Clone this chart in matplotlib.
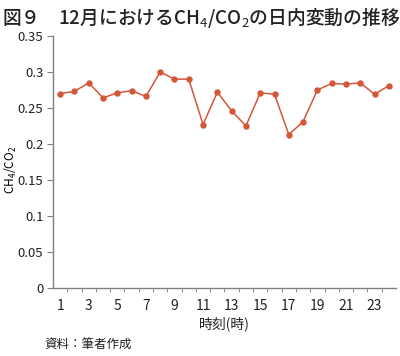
import matplotlib.pyplot as plt
import numpy as np

plt.rcParams['font.family'] = ['Noto Sans CJK JP', 'DejaVu Sans']
plt.rcParams['mathtext.fontset'] = 'custom'
plt.rcParams['mathtext.rm'] = 'Noto Sans CJK JP'

# 時刻 (1-24時) と CH4/CO2 比
hours = np.arange(1, 25)
ratio = [0.270, 0.273, 0.285, 0.264, 0.271, 0.274, 0.266, 0.300,
         0.290, 0.290, 0.227, 0.272, 0.246, 0.225, 0.271, 0.269,
         0.213, 0.231, 0.275, 0.284, 0.283, 0.285, 0.269, 0.281]
yticks = [0, 0.05, 0.1, 0.15, 0.2, 0.25, 0.3, 0.35]
ytick_labels = ["0", "0.05", "0.1", "0.15", "0.2", "0.25", "0.3", "0.35"]
xtick_hours = hours[::2]

fig = plt.figure(figsize=(4.0, 3.56), dpi=100)
ax = fig.add_axes([0.1325, 0.191, 0.8575, 0.708])

color = '#d4573a'
ax.plot(hours, ratio, color=color, lw=1.1, marker='o', ms=3.6,
        markerfacecolor=color, markeredgecolor=color)

ax.set_xlim(0.5, 24.5)
ax.set_ylim(0, 0.35)
ax.set_yticks(yticks)
ax.set_yticklabels(ytick_labels)
ax.set_xticks(xtick_hours)
ax.set_xticklabels([str(h) for h in xtick_hours])
ax.set_xticks(np.arange(1.5, 24.5, 1), minor=True)

for s in ['top', 'right']:
    ax.spines[s].set_visible(False)
for s in ['left', 'bottom']:
    ax.spines[s].set_color('#808080')
    ax.spines[s].set_linewidth(1.0)

ax.tick_params(axis='y', direction='out', length=4, color='#808080',
               labelsize=9.5, pad=3, labelcolor='#222222')
ax.tick_params(axis='x', which='major', length=0, labelsize=10, pad=8,
               labelcolor='#222222')
ax.tick_params(axis='x', which='minor', direction='out', length=3,
               color='#808080')

ax.set_ylabel("CH$_4$/CO$_2$", fontsize=8.5)
ax.yaxis.set_label_coords(-0.098, 0.47)
ax.set_xlabel("時刻(時)", fontsize=10, labelpad=2, color='#222222')

fig.text(0.005, 0.952, "図９　12月におけるCH$_4$/CO$_2$の日内変動の推移",
         fontsize=13.5, fontweight='medium', va='center', ha='left',
         color='#222222')
fig.text(0.112, 0.03, "資料：筆者作成", fontsize=9, va='center', ha='left',
         color='#222222')

fig.savefig("out.png", dpi=100)
